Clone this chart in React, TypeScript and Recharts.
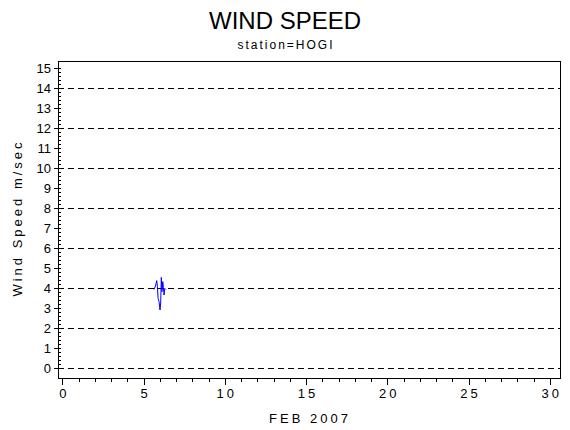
import React from 'react';
import { LineChart, Line, XAxis, YAxis, ReferenceLine, ReferenceArea } from 'recharts';

// hourly readings, day of month (fractional) and wind speed m/s
const days = [5.61, 5.7, 5.78, 5.82, 5.86, 5.92, 5.98, 6.02, 6.06, 6.1, 6.15, 6.19, 6.23, 6.27, 6.33];
const speeds = [3.93, 4.1, 4.37, 4.07, 3.48, 3.32, 2.9, 3.25, 4.53, 3.82, 4.32, 4.03, 3.65, 3.98, 3.93];

const xMajor = [0, 5, 10, 15, 20, 25, 30];
const xTicks = Array.from({ length: 31 }, (_, i) => i);
const yTicks = Array.from({ length: 76 }, (_, i) => Math.round(i * 20) / 100);
const gridLines = [0, 2, 4, 6, 8, 10, 12, 14];

const X_MIN = -0.3;
const X_MAX = 30.6;
const Y_MIN = -0.5;
const Y_MAX = 15.35;

const data = days.map((d, i) => ({ day: d, speed: speeds[i] }));

const FONT = '"Liberation Sans", Arial, sans-serif';

const XTick = (props: any) => {
  const { x, y, payload } = props;
  const v = payload.value;
  const major = xMajor.includes(v);
  return (
    <g>
      <line x1={x} x2={x} y1={y} y2={y + (major ? 7 : 4)} stroke="#000" shapeRendering="crispEdges" />
      {major && (
        <text x={x} y={y + 20} textAnchor="middle" fontSize={13} fontFamily={FONT} letterSpacing={3} dx={1.5} fill="#000">
          {v}
        </text>
      )}
    </g>
  );
};

const YTick = (props: any) => {
  const { x, y, payload } = props;
  const v = payload.value;
  const major = Math.abs(v - Math.round(v)) < 0.001;
  return (
    <g>
      <line x1={major ? x - 4 : x} x2={x + 3} y1={y} y2={y} stroke="#000" shapeRendering="crispEdges" />
      {major && (
        <text x={x - 7} y={y + 5} textAnchor="end" fontSize={13} fontFamily={FONT} fill="#000">
          {Math.round(v)}
        </text>
      )}
    </g>
  );
};

export default function App() {
  return (
    <div style={{ position: 'absolute', left: 0, top: 0, width: 570, height: 430, background: '#fff' }}>
      <LineChart width={570} height={430} data={data} margin={{ top: 61, right: 10, bottom: 12, left: 8 }}>
        <XAxis
          dataKey="day"
          type="number"
          domain={[X_MIN, X_MAX]}
          ticks={xTicks}
          interval={0}
          tick={<XTick />}
          tickLine={false}
          axisLine={false}
          tickSize={0}
          tickMargin={0}
          height={40}
        />
        <YAxis
          type="number"
          domain={[Y_MIN, Y_MAX]}
          ticks={yTicks}
          interval={0}
          tick={<YTick />}
          tickLine={false}
          axisLine={false}
          tickSize={0}
          tickMargin={0}
          width={50}
        />
        <ReferenceArea
          x1={X_MIN}
          x2={X_MAX}
          y1={Y_MIN}
          y2={Y_MAX}
          fill="none"
          stroke="#000"
          strokeWidth={1}
          ifOverflow="visible"
          shapeRendering="crispEdges"
        />
        {gridLines.map((g) => (
          <ReferenceLine key={g} y={g} stroke="#000" strokeDasharray="6 4" shapeRendering="crispEdges" />
        ))}
        <Line dataKey="speed" type="linear" stroke="#0000ff" strokeWidth={1} dot={false} isAnimationActive={false} />
        <text x={285} y={29} textAnchor="middle" fontSize={24} fontFamily={FONT} fill="#000">WIND SPEED</text>
        <text x={286} y={49} textAnchor="middle" fontSize={12} fontFamily={FONT} letterSpacing={2} fill="#000">station=HOGI</text>
        <text x={310} y={423} textAnchor="middle" fontSize={13} fontFamily={FONT} letterSpacing={3} fill="#000">FEB 2007</text>
        <text x={22} y={218} textAnchor="middle" fontSize={13} fontFamily={FONT} letterSpacing={3} fill="#000" transform="rotate(-90 22 218)">Wind Speed m/sec</text>
      </LineChart>
    </div>
  );
}
